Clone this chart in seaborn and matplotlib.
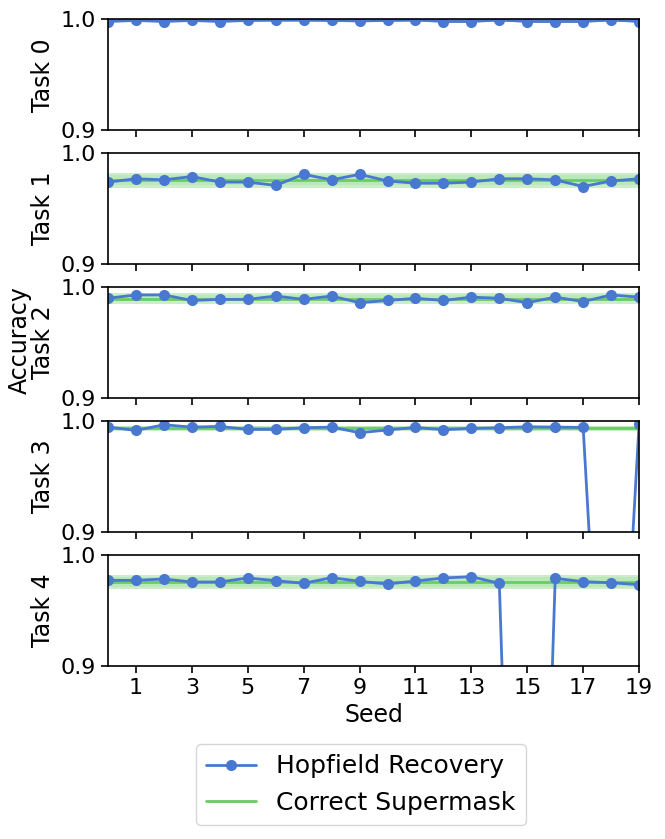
import numpy as np
import pandas as pd
import matplotlib
matplotlib.use('Agg')
import matplotlib.pyplot as plt
import seaborn as sns

# --- data
seeds = list(range(20))
tasks = ['Task 0', 'Task 1', 'Task 2', 'Task 3', 'Task 4']

hopfield_t0 = [0.998, 0.999, 0.998, 0.999, 0.998, 0.999, 0.9995, 0.9995, 0.999, 0.9985,
               0.999, 0.9995, 0.998, 0.998, 0.9995, 0.998, 0.998, 0.998, 0.9995, 0.998]
hopfield_t1 = [0.974, 0.977, 0.976, 0.979, 0.974, 0.974, 0.971, 0.981, 0.976, 0.981,
               0.975, 0.973, 0.973, 0.974, 0.977, 0.977, 0.976, 0.970, 0.975, 0.977]
hopfield_t2 = [0.990, 0.993, 0.993, 0.988, 0.989, 0.989, 0.992, 0.989, 0.992, 0.986,
               0.988, 0.990, 0.988, 0.991, 0.990, 0.986, 0.991, 0.987, 0.993, 0.991]
hopfield_t3 = [0.9946, 0.9916, 0.9967, 0.9946, 0.9952, 0.9925, 0.9925, 0.994, 0.9946, 0.9895,
               0.992, 0.9943, 0.9922, 0.9934, 0.994, 0.9949, 0.9946, 0.9943, 0.55, 0.9976]
hopfield_t4 = [0.9772, 0.9772, 0.9784, 0.9757, 0.9757, 0.9793, 0.9769, 0.9745, 0.9796, 0.9763,
               0.9739, 0.9766, 0.9793, 0.9805, 0.9745, 0.2, 0.979, 0.976, 0.975, 0.9733]

supermask_mean = [0.9992, 0.976, 0.9895, 0.9937, 0.976]
supermask_lo = [0.9982, 0.9686, 0.985, 0.9907, 0.969]
supermask_hi = [1.0, 0.982, 0.995, 0.996, 0.9817]
supermask_inner_lo = [0.9987, 0.971, 0.9872, 0.9922, 0.9715]
supermask_inner_hi = [0.9998, 0.980, 0.9925, 0.9952, 0.980]

hopfield = [hopfield_t0, hopfield_t1, hopfield_t2, hopfield_t3, hopfield_t4]

sns.set_theme(style='ticks', palette='muted')
plt.rcParams['font.family'] = ['DejaVu Sans']
plt.rcParams['axes.edgecolor'] = 'black'
plt.rcParams['xtick.color'] = 'black'
plt.rcParams['ytick.color'] = 'black'
plt.rcParams['text.color'] = 'black'
plt.rcParams['axes.labelcolor'] = 'black'
plt.rcParams['axes.linewidth'] = 1.2

blue = sns.color_palette('muted')[0]
green = sns.color_palette('muted')[2]

fig, axs = plt.subplots(5, 1, figsize=(6.65, 8.39), dpi=100, sharex=True)
fig.subplots_adjust(left=0.1624, right=0.961, top=0.977, bottom=0.2062, hspace=0.207)

for i, ax in enumerate(axs):
    df = pd.DataFrame({'Seed': seeds, 'Accuracy': hopfield[i]})
    ax.fill_between([0, 19], supermask_lo[i], supermask_hi[i], color=green, alpha=0.35, lw=0, zorder=1)
    ax.fill_between([0, 19], supermask_inner_lo[i], supermask_inner_hi[i], color=green, alpha=0.15, lw=0, zorder=1)
    ax.axhline(supermask_mean[i], color=green, lw=2, label='Correct Supermask', zorder=1.5)
    sns.lineplot(data=df, x='Seed', y='Accuracy', ax=ax, color=blue, marker='o',
                 markersize=8, markeredgewidth=0, lw=2, label='Hopfield Recovery', legend=False)
    ax.set_ylim(0.9, 1.0)
    ax.set_xlim(0, 19)
    ax.set_yticks([0.9, 1.0])
    ax.set_yticklabels(['0.9', '1.0'])
    ax.set_xticks(list(range(1, 20, 2)))
    ax.tick_params(labelsize=16, length=5, width=1.2)
    ax.set_ylabel(tasks[i], fontsize=17)
    ax.set_xlabel('')

axs[-1].set_xlabel('Seed', fontsize=17)
fig.text(0.03, 1 - 340 / 839, 'Accuracy', rotation=90, ha='center', va='center', fontsize=17)

handles, labels = axs[0].get_legend_handles_labels()
order = [labels.index('Hopfield Recovery'), labels.index('Correct Supermask')]
fig.legend([handles[j] for j in order], [labels[j] for j in order],
           loc='lower center', bbox_to_anchor=(0.543, 0.002), fontsize=18, frameon=True)

plt.savefig('out.png', dpi=100)
